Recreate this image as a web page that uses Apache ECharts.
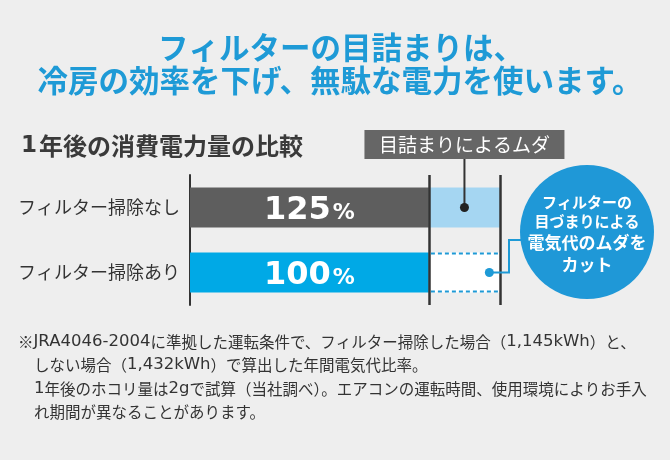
<!DOCTYPE html>
<html><head><meta charset="utf-8">
<script src="https://cdn.jsdelivr.net/npm/echarts@6/dist/echarts.min.js"></script>
<style>html,body{margin:0;padding:0;background:#eeeeee}#c{width:670px;height:460px}</style>
</head><body><div id="c"></div>
<script>
const categories = ['フィルター掃除なし', 'フィルター掃除あり'];
const totals = [125, 100];          // 年間電気代比率 (%)
const baseline = 100;               // フィルター掃除あり = 100%
const waste = totals[0] - totals[1]; // 目詰まりによるムダ
const titleLines = ['フィルターの目詰まりは、', '冷房の効率を下げ、無駄な電力を使います。'];
const subTitle = '1年後の消費電力量の比較';
const wasteLabel = '目詰まりによるムダ';
const bubbleLines = ['フィルターの', '目づまりによる', '電気代のムダを', 'カット'];
const notes = [
  '※JRA4046-2004に準拠した運転条件で、フィルター掃除した場合（1,145kWh）と、',
  'しない場合（1,432kWh）で算出した年間電気代比率。',
  '1年後のホコリ量は2gで試算（当社調べ）。エアコンの運転時間、使用環境によりお手入',
  'れ期間が異なることがあります。'
];

const FONT = '"Noto Sans CJK JP", "Noto Sans", sans-serif';
const LFONT = '"DejaVu Sans", "Noto Sans CJK JP", sans-serif';
const BLUE = '#1e9ad6';
const BAR_W = 40;
const chart = echarts.init(document.getElementById('c'), null, {renderer: 'canvas'});

const option = {
  backgroundColor: '#eeeeee',
  animation: false,
  textStyle: {fontFamily: FONT},
  title: [
    {text: '{a|1}{b|' + subTitle.slice(1) + '}', left: 16, top: 129,
     textStyle: {rich: {
       a: {color: '#3a3a3a', fontSize: 23, fontWeight: 'bold', fontFamily: LFONT, padding: [0, 2, 0, 0]},
       b: {color: '#3a3a3a', fontSize: 24, fontWeight: 'bold', fontFamily: FONT}
     }}}
  ],
  grid: {left: 190, top: 175, width: 310, height: 130, containLabel: false},
  xAxis: {type: 'value', min: 16, max: 125, show: false},
  yAxis: {
    type: 'category', data: categories, inverse: true,
    axisLine: {lineStyle: {color: '#333', width: 2}},
    axisTick: {show: false},
    axisLabel: {color: '#333', fontSize: 18, margin: 10, fontFamily: FONT}
  },
  series: [
    {
      type: 'bar', stack: 'a', barWidth: BAR_W, clip: true,
      data: [
        {value: baseline, itemStyle: {color: '#5e5e5e'}},
        {value: baseline, itemStyle: {color: '#00a9e6'}}
      ],
      label: {
        show: true, position: 'inside', offset: [0, 3],
        formatter: p => '{n|' + totals[p.dataIndex] + '}{p|%}',
        rich: {
          n: {color: '#fff', fontSize: 32, fontWeight: 'bold', fontFamily: LFONT},
          p: {color: '#fff', fontSize: 22, fontWeight: 'bold', fontFamily: LFONT, padding: [6, 0, 0, 2]}
        }
      }
    },
    {
      type: 'bar', stack: 'a', barWidth: BAR_W,
      data: [
        {value: waste, itemStyle: {color: '#a5d6f2'}},
        {value: waste, itemStyle: {color: '#ffffff'}}
      ],
      markLine: {
        silent: true, symbol: 'none', label: {show: false}, z: 10,
        lineStyle: {color: '#333', width: 2.5, type: 'solid'},
        data: [{xAxis: baseline}, {xAxis: totals[0]}]
      }
    }
  ]
};
chart.setOption(option);

const d1 = chart.convertToPixel({gridIndex: 0}, [baseline + waste / 2, categories[0]]);
const d2 = chart.convertToPixel({gridIndex: 0}, [baseline + waste * 0.85, categories[1]]);
const s0 = chart.convertToPixel({gridIndex: 0}, [baseline, categories[1]]);
const s1 = chart.convertToPixel({gridIndex: 0}, [totals[0], categories[1]]);
const cx = 587, cy = 232, r = 67;
const bendX = 509, joinY = 240;
const dash = {stroke: BLUE, lineWidth: 2, lineDash: [4, 3]};

const g = [
  {type: 'text', z: 100, style: {text: titleLines[0], x: 341, y: 47, align: 'center', verticalAlign: 'middle', fill: BLUE, font: 'bold 30.5px ' + FONT}},
  {type: 'text', z: 100, style: {text: titleLines[1], x: 340, y: 80, align: 'center', verticalAlign: 'middle', fill: BLUE, font: 'bold 30.5px ' + FONT}},
  {type: 'line', z: 100, shape: {x1: s0[0] + 2, y1: s0[1] - BAR_W / 2 + 1, x2: s1[0] - 2, y2: s1[1] - BAR_W / 2 + 1}, style: dash},
  {type: 'line', z: 100, shape: {x1: s0[0] + 2, y1: s0[1] + BAR_W / 2 - 1, x2: s1[0] - 2, y2: s1[1] + BAR_W / 2 - 1}, style: dash},
  {type: 'line', z: 100, shape: {x1: d1[0], y1: 159, x2: d1[0], y2: d1[1]}, style: {stroke: '#333', lineWidth: 2}},
  {type: 'rect', z: 101, shape: {x: d1[0] - 100, y: 130, width: 200, height: 29}, style: {fill: '#666666'}},
  {type: 'text', z: 102, style: {text: wasteLabel, x: d1[0], y: 144.5, align: 'center', verticalAlign: 'middle', fill: '#fff', font: '19px ' + FONT}},
  {type: 'circle', z: 100, shape: {cx: d1[0], cy: d1[1], r: 4.5}, style: {fill: '#222'}},
  {type: 'polyline', z: 100, shape: {points: [[d2[0], d2[1]], [bendX, d2[1]], [bendX, joinY], [cx - 60, joinY]]}, style: {stroke: BLUE, lineWidth: 2, fill: null}},
  {type: 'circle', z: 101, shape: {cx: d2[0], cy: d2[1], r: 4.5}, style: {fill: BLUE}},
  {type: 'circle', z: 102, shape: {cx: cx, cy: cy, r: r}, style: {fill: '#1f98d7'}},
  {type: 'text', z: 103, style: {text: bubbleLines[0], x: cx, y: 202, align: 'center', verticalAlign: 'middle', fill: '#fff', font: 'bold 15px ' + FONT}},
  {type: 'text', z: 103, style: {text: bubbleLines[1], x: cx, y: 221, align: 'center', verticalAlign: 'middle', fill: '#fff', font: 'bold 15px ' + FONT}},
  {type: 'text', z: 103, style: {text: bubbleLines[2], x: cx, y: 243, align: 'center', verticalAlign: 'middle', fill: '#fff', font: 'bold 17px ' + FONT}},
  {type: 'text', z: 103, style: {text: bubbleLines[3], x: cx, y: 265, align: 'center', verticalAlign: 'middle', fill: '#fff', font: 'bold 17px ' + FONT}}
];
const noteY = [342, 365, 389, 412];
const noteRich = {
  c: {fill: '#333', fontSize: 15.5, fontFamily: FONT},
  l: {fill: '#333', fontSize: 16.5, fontFamily: LFONT}
};
notes.forEach((t, i) => {
  const rt = t.split(/([A-Za-z0-9,\-]+)/).filter(s => s.length)
    .map(s => /^[A-Za-z0-9,\-]+$/.test(s) ? '{l|' + s + '}' : '{c|' + s + '}').join('');
  g.push({type: 'text', z: 100, style: {text: rt, rich: noteRich, x: i === 0 ? 18 : 34, y: noteY[i], verticalAlign: 'middle', fill: '#333', font: '15.5px ' + FONT}});
});
chart.setOption({graphic: g});
</script>
</body></html>
